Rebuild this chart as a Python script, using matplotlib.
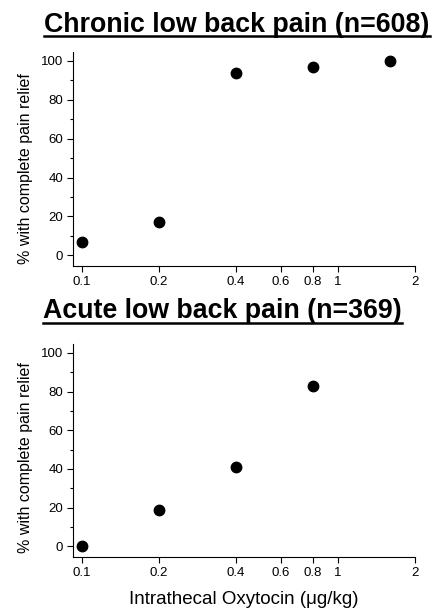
import numpy as np
import matplotlib
matplotlib.use('Agg')
from matplotlib import pyplot as plt
from matplotlib.ticker import FixedLocator, FixedFormatter, MultipleLocator, NullLocator

plt.rcParams['font.family'] = ['Liberation Sans', 'DejaVu Sans']

# data
chronic_dose = [0.1, 0.2, 0.4, 0.8, 1.6]
chronic_pct = [7, 17, 94, 97, 100]
acute_dose = [0.1, 0.2, 0.4, 0.8]
acute_pct = [0, 19, 41, 83]
xticks = [0.1, 0.2, 0.4, 0.6, 0.8, 1, 2]
xticklabels = ['0.1', '0.2', '0.4', '0.6', '0.8', '1', '2']
titles = ['Chronic low back pain (n=608)', 'Acute low back pain (n=369)']

fig = plt.figure(figsize=(4.34, 6.11), dpi=100)
ax1 = fig.add_axes([0.168, 0.5646, 0.788, 0.3502])
ax2 = fig.add_axes([0.168, 0.0884, 0.788, 0.3486])

for ax, xs, ys, ly in [(ax1, chronic_dose, chronic_pct, 0.456),
                       (ax2, acute_dose, acute_pct, 0.467)]:
    ax.plot(xs, ys, 'o', color='black', ms=7.5, clip_on=False)
    ax.set_xscale('log')
    ax.set_xlim(0.0922, 2)
    ax.set_ylim(-5.5, 104.6)
    ax.xaxis.set_major_locator(FixedLocator(xticks))
    ax.xaxis.set_major_formatter(FixedFormatter(xticklabels))
    ax.xaxis.set_minor_locator(NullLocator())
    ax.yaxis.set_major_locator(MultipleLocator(20))
    ax.yaxis.set_minor_locator(MultipleLocator(10))
    ax.spines['top'].set_visible(False)
    ax.spines['right'].set_visible(False)
    ax.tick_params(direction='out', length=4, width=0.8, labelsize=9.5, pad=3)
    ax.tick_params(which='minor', direction='out', length=2.5, width=0.8)
    ax.set_ylabel('% with complete pain relief', fontsize=11.5)
    ax.yaxis.set_label_coords(-0.116, ly)

ax2.set_xlabel('Intrathecal Oxytocin (\u03bcg/kg)', fontsize=13.5, labelpad=9)

# titles, underlined by hand
renderer = fig.canvas.get_renderer()
for xpos, ypos, title in [(0.546, 0.948, titles[0]), (0.513, 0.4795, titles[1])]:
    t = fig.text(xpos, ypos, title, ha='center', va='baseline',
                 fontsize=19.3, fontweight='bold')
    bb = t.get_window_extent(renderer=renderer)
    x0, x1 = bb.x0 / fig.bbox.width, bb.x1 / fig.bbox.width
    yl = ypos - 4.5 / fig.bbox.height
    fig.add_artist(plt.Line2D([x0, x1], [yl, yl], color='black', lw=1.8,
                              transform=fig.transFigure))

fig.savefig('out.png', dpi=100)
